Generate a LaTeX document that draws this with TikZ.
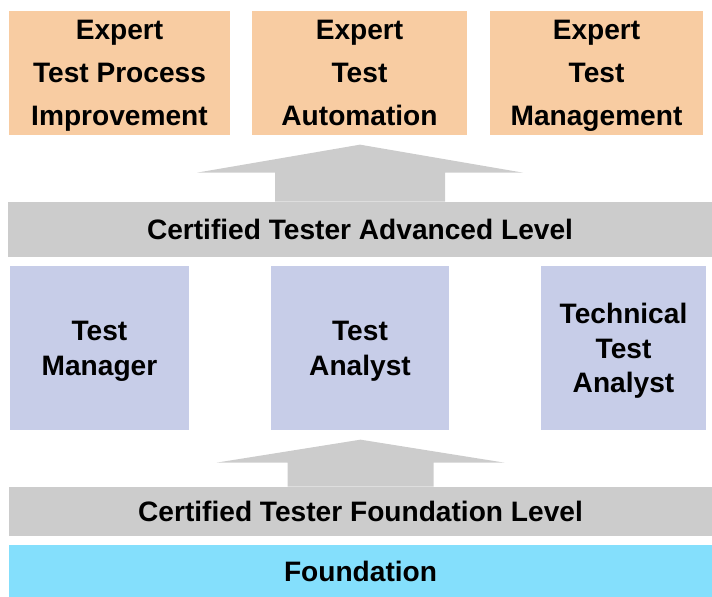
\documentclass[tikz,border=0pt]{standalone}
\usepackage{fontspec}
\setmainfont{Liberation Sans}
\usetikzlibrary{calc}

\definecolor{expertorange}{RGB}{248,204,162}
\definecolor{advblue}{RGB}{199,205,232}
\definecolor{levelgray}{RGB}{204,204,204}
\definecolor{basecyan}{RGB}{132,223,252}

\tikzset{
  module/.style={rectangle, inner sep=0pt, align=center, text depth=0pt, font=\bfseries\fontsize{16}{24.4}\selectfont},
  expertbox/.style={module, fill=expertorange, minimum height=2.48cm},
  advbox/.style={module, fill=advblue, minimum height=3.28cm, font=\bfseries\fontsize{16}{19.8}\selectfont},
  levelbar/.style={module, fill=levelgray},
  basebar/.style={module, fill=basecyan},
  uparrow/.style={fill=levelgray}
}

\begin{document}
\begin{tikzpicture}[x=0.02cm, y=-0.02cm]
		\useasboundingbox (0,0) rectangle (712,597);
		
		% expert level
		\node (etpi) [expertbox, minimum width=4.42cm] at (119.5,73) {Expert\\Test Process\\Improvement};  
		\node (eta) [expertbox, minimum width=4.30cm] at (359.5,73) {Expert\\Test\\Automation};  
		\node (etm) [expertbox, minimum width=4.26cm] at (596.5,73) {Expert\\Test\\Management};  
		
		% advanced level
		\node (adv) [levelbar, minimum width=14.08cm, minimum height=1.10cm] at (360,229.5) {Certified Tester Advanced Level};  
		\node (tm) [advbox, minimum width=3.58cm] at (99.5,348) {Test\\Manager};  
		\node (ta) [advbox, minimum width=3.56cm] at (360,348) {Test\\Analyst};  
		\node (tta) [advbox, minimum width=3.30cm] at (623.5,348) {Technical\\Test\\Analyst};  
		
		% foundation level
		\node (fnd) [levelbar, minimum width=14.06cm, minimum height=0.98cm] at (360.5,511.5) {Certified Tester Foundation Level};  
		\node (base) [basebar, minimum width=14.06cm, minimum height=1.04cm] at (360.5,571) {Foundation};  
		
		\fill[uparrow] ($(adv.north)+(-85,0)$) -- ++(0,-29) -- ($(adv.north)+(-163,-29)$) -- ($(adv.north)+(0,-57)$)
		  -- ($(adv.north)+(163,-29)$) -- ($(adv.north)+(85,-29)$) -- ($(adv.north)+(85,0)$) -- cycle;  
		\fill[uparrow] ($(fnd.north)+(-73,0)$) -- ++(0,-24) -- ($(fnd.north)+(-144,-24)$) -- ($(fnd.north)+(0,-47)$)
		  -- ($(fnd.north)+(144,-24)$) -- ($(fnd.north)+(73,-24)$) -- ($(fnd.north)+(73,0)$) -- cycle;  
	\end{tikzpicture}
\end{document}
